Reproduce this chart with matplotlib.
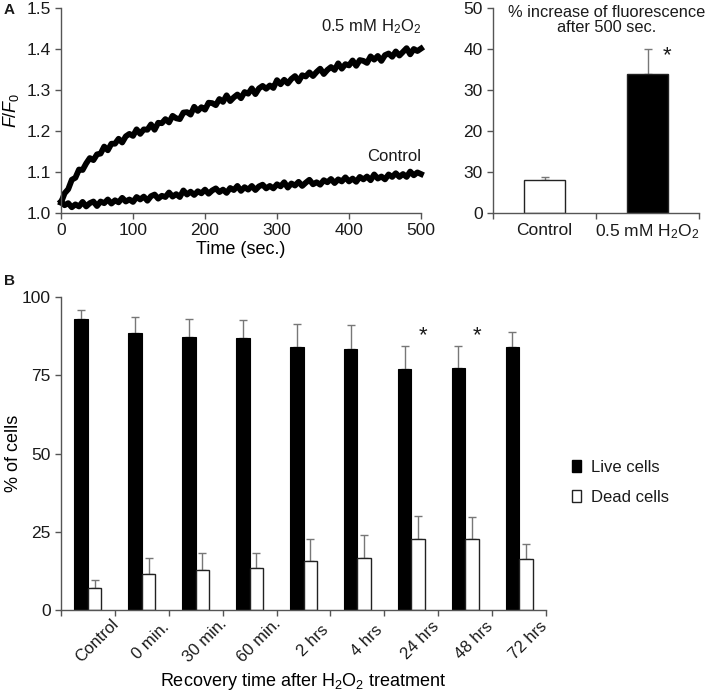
import matplotlib
matplotlib.use("Agg")
import matplotlib.pyplot as plt
from matplotlib.patches import Patch

plt.rcParams['font.family'] = ['Liberation Sans', 'DejaVu Sans']
plt.rcParams['mathtext.fontset'] = 'custom'
plt.rcParams['mathtext.rm'] = 'Liberation Sans'
plt.rcParams['mathtext.it'] = 'Liberation Sans:italic'
plt.rcParams['text.color'] = '#1a1a1a'
plt.rcParams['xtick.color'] = '#555555'
plt.rcParams['ytick.color'] = '#555555'
plt.rcParams['xtick.labelcolor'] = '#1a1a1a'
plt.rcParams['ytick.labelcolor'] = '#1a1a1a'

# panel A, traces (read every 5 s)
time_s = list(range(0, 505, 5))
trace_h2o2 = [1.025, 1.048, 1.058, 1.081, 1.086, 1.106, 1.105, 1.121, 1.134, 1.129,
              1.143, 1.145, 1.162, 1.153, 1.169, 1.169, 1.181, 1.172, 1.187, 1.193,
              1.188, 1.204, 1.193, 1.204, 1.203, 1.216, 1.203, 1.220, 1.219, 1.229,
              1.221, 1.237, 1.231, 1.229, 1.245, 1.246, 1.240, 1.259, 1.249, 1.258,
              1.252, 1.269, 1.268, 1.263, 1.278, 1.271, 1.287, 1.273, 1.282, 1.289,
              1.280, 1.295, 1.291, 1.304, 1.290, 1.304, 1.310, 1.303, 1.311, 1.305,
              1.324, 1.314, 1.325, 1.316, 1.327, 1.334, 1.321, 1.336, 1.333, 1.343,
              1.334, 1.344, 1.352, 1.339, 1.349, 1.356, 1.349, 1.365, 1.352, 1.363,
              1.360, 1.372, 1.359, 1.373, 1.371, 1.366, 1.382, 1.374, 1.383, 1.371,
              1.385, 1.389, 1.381, 1.394, 1.384, 1.393, 1.402, 1.387, 1.400, 1.395,
              1.401]
trace_ctrl = [1.028, 1.019, 1.024, 1.014, 1.021, 1.016, 1.027, 1.016, 1.024, 1.028,
              1.017, 1.028, 1.024, 1.033, 1.023, 1.031, 1.026, 1.037, 1.028, 1.033,
              1.027, 1.039, 1.033, 1.040, 1.030, 1.041, 1.045, 1.035, 1.042, 1.039,
              1.050, 1.040, 1.046, 1.039, 1.055, 1.045, 1.052, 1.044, 1.053, 1.048,
              1.057, 1.047, 1.055, 1.060, 1.051, 1.057, 1.049, 1.061, 1.056, 1.066,
              1.054, 1.063, 1.057, 1.066, 1.056, 1.065, 1.069, 1.060, 1.066, 1.060,
              1.070, 1.065, 1.075, 1.062, 1.072, 1.067, 1.076, 1.066, 1.074, 1.081,
              1.070, 1.075, 1.069, 1.080, 1.075, 1.083, 1.073, 1.082, 1.077, 1.087,
              1.077, 1.084, 1.076, 1.088, 1.082, 1.089, 1.080, 1.094, 1.084, 1.089,
              1.082, 1.094, 1.088, 1.097, 1.088, 1.095, 1.088, 1.101, 1.092, 1.099,
              1.095]

# panel A, bars
inc_labels = ['Control', '0.5 mM H$_2$O$_2$']
inc_values = [8.1, 33.9]
inc_err = [0.7, 6.2]

# panel B
groups = ['Control', '0 min.', '30 min.', '60 min.', '2 hrs', '4 hrs', '24 hrs', '48 hrs', '72 hrs']
live = [93.1, 88.6, 87.3, 86.9, 84.0, 83.3, 77.1, 77.4, 84.0]
live_err = [2.9, 4.9, 5.7, 5.8, 7.4, 7.8, 7.3, 7.0, 4.8]
dead = [7.1, 11.6, 12.9, 13.3, 15.6, 16.6, 22.8, 22.8, 16.2]
dead_err = [2.5, 5.0, 5.3, 4.9, 7.2, 7.3, 7.3, 6.9, 4.9]
star_groups = [6, 7]

W, H = 709, 693
fig = plt.figure(figsize=(W / 100, H / 100), dpi=100)

def box(x0, y0, x1, y1):
    return [x0 / W, 1 - y1 / H, (x1 - x0) / W, (y1 - y0) / H]

def style(ax):
    for s in ['top', 'right']:
        ax.spines[s].set_visible(False)
    for s in ['left', 'bottom']:
        ax.spines[s].set_color('#555555')
        ax.spines[s].set_linewidth(1.0)
    ax.tick_params(direction='out', length=4, width=1.0)

# A left
ax1 = fig.add_axes(box(61, 8, 421, 213))
style(ax1)
ax1.plot(time_s, trace_h2o2, color='black', lw=4.2)
ax1.plot(time_s, trace_ctrl, color='black', lw=4.2)
ax1.set_xlim(0, 500)
ax1.set_ylim(1.0, 1.5)
ax1.set_xticks(range(0, 501, 100))
ax1.set_yticks([1.0, 1.1, 1.2, 1.3, 1.4, 1.5])
ax1.set_yticklabels(['1.0', '1.1', '1.2', '1.3', '1.4', '1.5'])
ax1.tick_params(labelsize=12.5)
ax1.set_xlabel('Time (sec.)', fontsize=13, labelpad=2)
ax1.set_ylabel('$F/F_\\mathrm{0}$', fontsize=13)
ax1.yaxis.set_label_coords(-40 / 360, 0.5)
ax1.text(500, 1.455, '0.5 mM H$_2$O$_2$', ha='right', va='center', fontsize=12)
ax1.text(500, 1.139, 'Control', ha='right', va='center', fontsize=12)
for ln in ax1.lines:
    ln.set_clip_on(False)

# A right
ax2 = fig.add_axes(box(493, 8, 699, 213))
style(ax2)
ax2.bar([0, 1], inc_values, width=0.4, color=['white', 'black'], edgecolor='#222222', lw=1.0, zorder=2)
ax2.errorbar([0, 1], inc_values, yerr=[[0, 0], inc_err], fmt='none', ecolor='#777777',
             elinewidth=1.0, capsize=3, capthick=1.0, zorder=1)
ax2.set_xlim(-0.5, 1.5)
ax2.set_ylim(0, 50)
ax2.set_xticks([-0.5, 0.5, 1.5])
ax2.set_xticklabels([])
ax2.set_xticks([0, 1], minor=True)
ax2.set_xticklabels(inc_labels, minor=True)
ax2.tick_params(axis='x', which='minor', length=0, pad=7, labelsize=12.5)
ax2.set_yticks([0, 10, 20, 30, 40, 50])
ax2.set_yticklabels(['0', '30', '20', '30', '40', '50'])
ax2.tick_params(axis='y', labelsize=12.5)
ax2.text(0.6, 47.1, '% increase of fluorescence\nafter 500 sec.', ha='center', va='center',
         fontsize=11.8, linespacing=1.0)
ax2.text(1.19, 38.3, '*', ha='center', va='center', fontsize=16)

# B
ax3 = fig.add_axes(box(61, 297, 546, 610))
style(ax3)
xs = list(range(len(groups)))
bw = 0.25
live_x = [x - bw / 2 for x in xs]
dead_x = [x + bw / 2 for x in xs]
ax3.bar(live_x, live, width=bw, color='black', edgecolor='black', lw=0.8, zorder=2, label='Live cells')
ax3.bar(dead_x, dead, width=bw, color='white', edgecolor='#222222', lw=1.0, zorder=2, label='Dead cells')
ax3.errorbar(live_x, live, yerr=[[0] * len(live), live_err], fmt='none', ecolor='#777777',
             elinewidth=1.0, capsize=3, capthick=1.0, zorder=1)
ax3.errorbar(dead_x, dead, yerr=[[0] * len(dead), dead_err], fmt='none', ecolor='#777777',
             elinewidth=1.0, capsize=3, capthick=1.0, zorder=1)
for g in star_groups:
    ax3.text(g + 0.22, 87.5, '*', ha='center', va='center', fontsize=16)
ax3.set_xlim(-0.5, len(groups) - 0.5)
ax3.set_ylim(0, 100)
ax3.set_yticks([0, 25, 50, 75, 100])
ax3.set_xticks([x - 0.5 for x in range(len(groups) + 1)])
ax3.set_xticklabels([])
ax3.set_xticks([x + 0.17 for x in xs], minor=True)
ax3.set_xticklabels(groups, minor=True, rotation=45, ha='center', va='center', rotation_mode='anchor')
ax3.tick_params(axis='x', which='minor', length=0, pad=22, labelsize=12)
ax3.tick_params(axis='y', labelsize=12.5)
ax3.set_ylabel('% of cells', fontsize=13)
ax3.yaxis.set_label_coords(-39 / 485, 0.5)
ax3.set_xlabel('Recovery time after H$_2$O$_2$ treatment', fontsize=13, labelpad=4)

handles = [Patch(facecolor='black', edgecolor='black', label='Live cells'),
           Patch(facecolor='white', edgecolor='#222222', label='Dead cells')]
fig.legend(handles=handles, loc='center left', bbox_to_anchor=(557 / W, 1 - 482 / H),
           frameon=False, fontsize=12, handlelength=0.55, handleheight=0.75,
           handletextpad=0.6, labelspacing=0.9)

fig.text(4 / W, 1 - 3 / H, 'A', ha='left', va='top', fontsize=11, fontweight='bold')
fig.text(4 / W, 1 - 274 / H, 'B', ha='left', va='top', fontsize=11, fontweight='bold')

fig.savefig('out.png', dpi=100)
